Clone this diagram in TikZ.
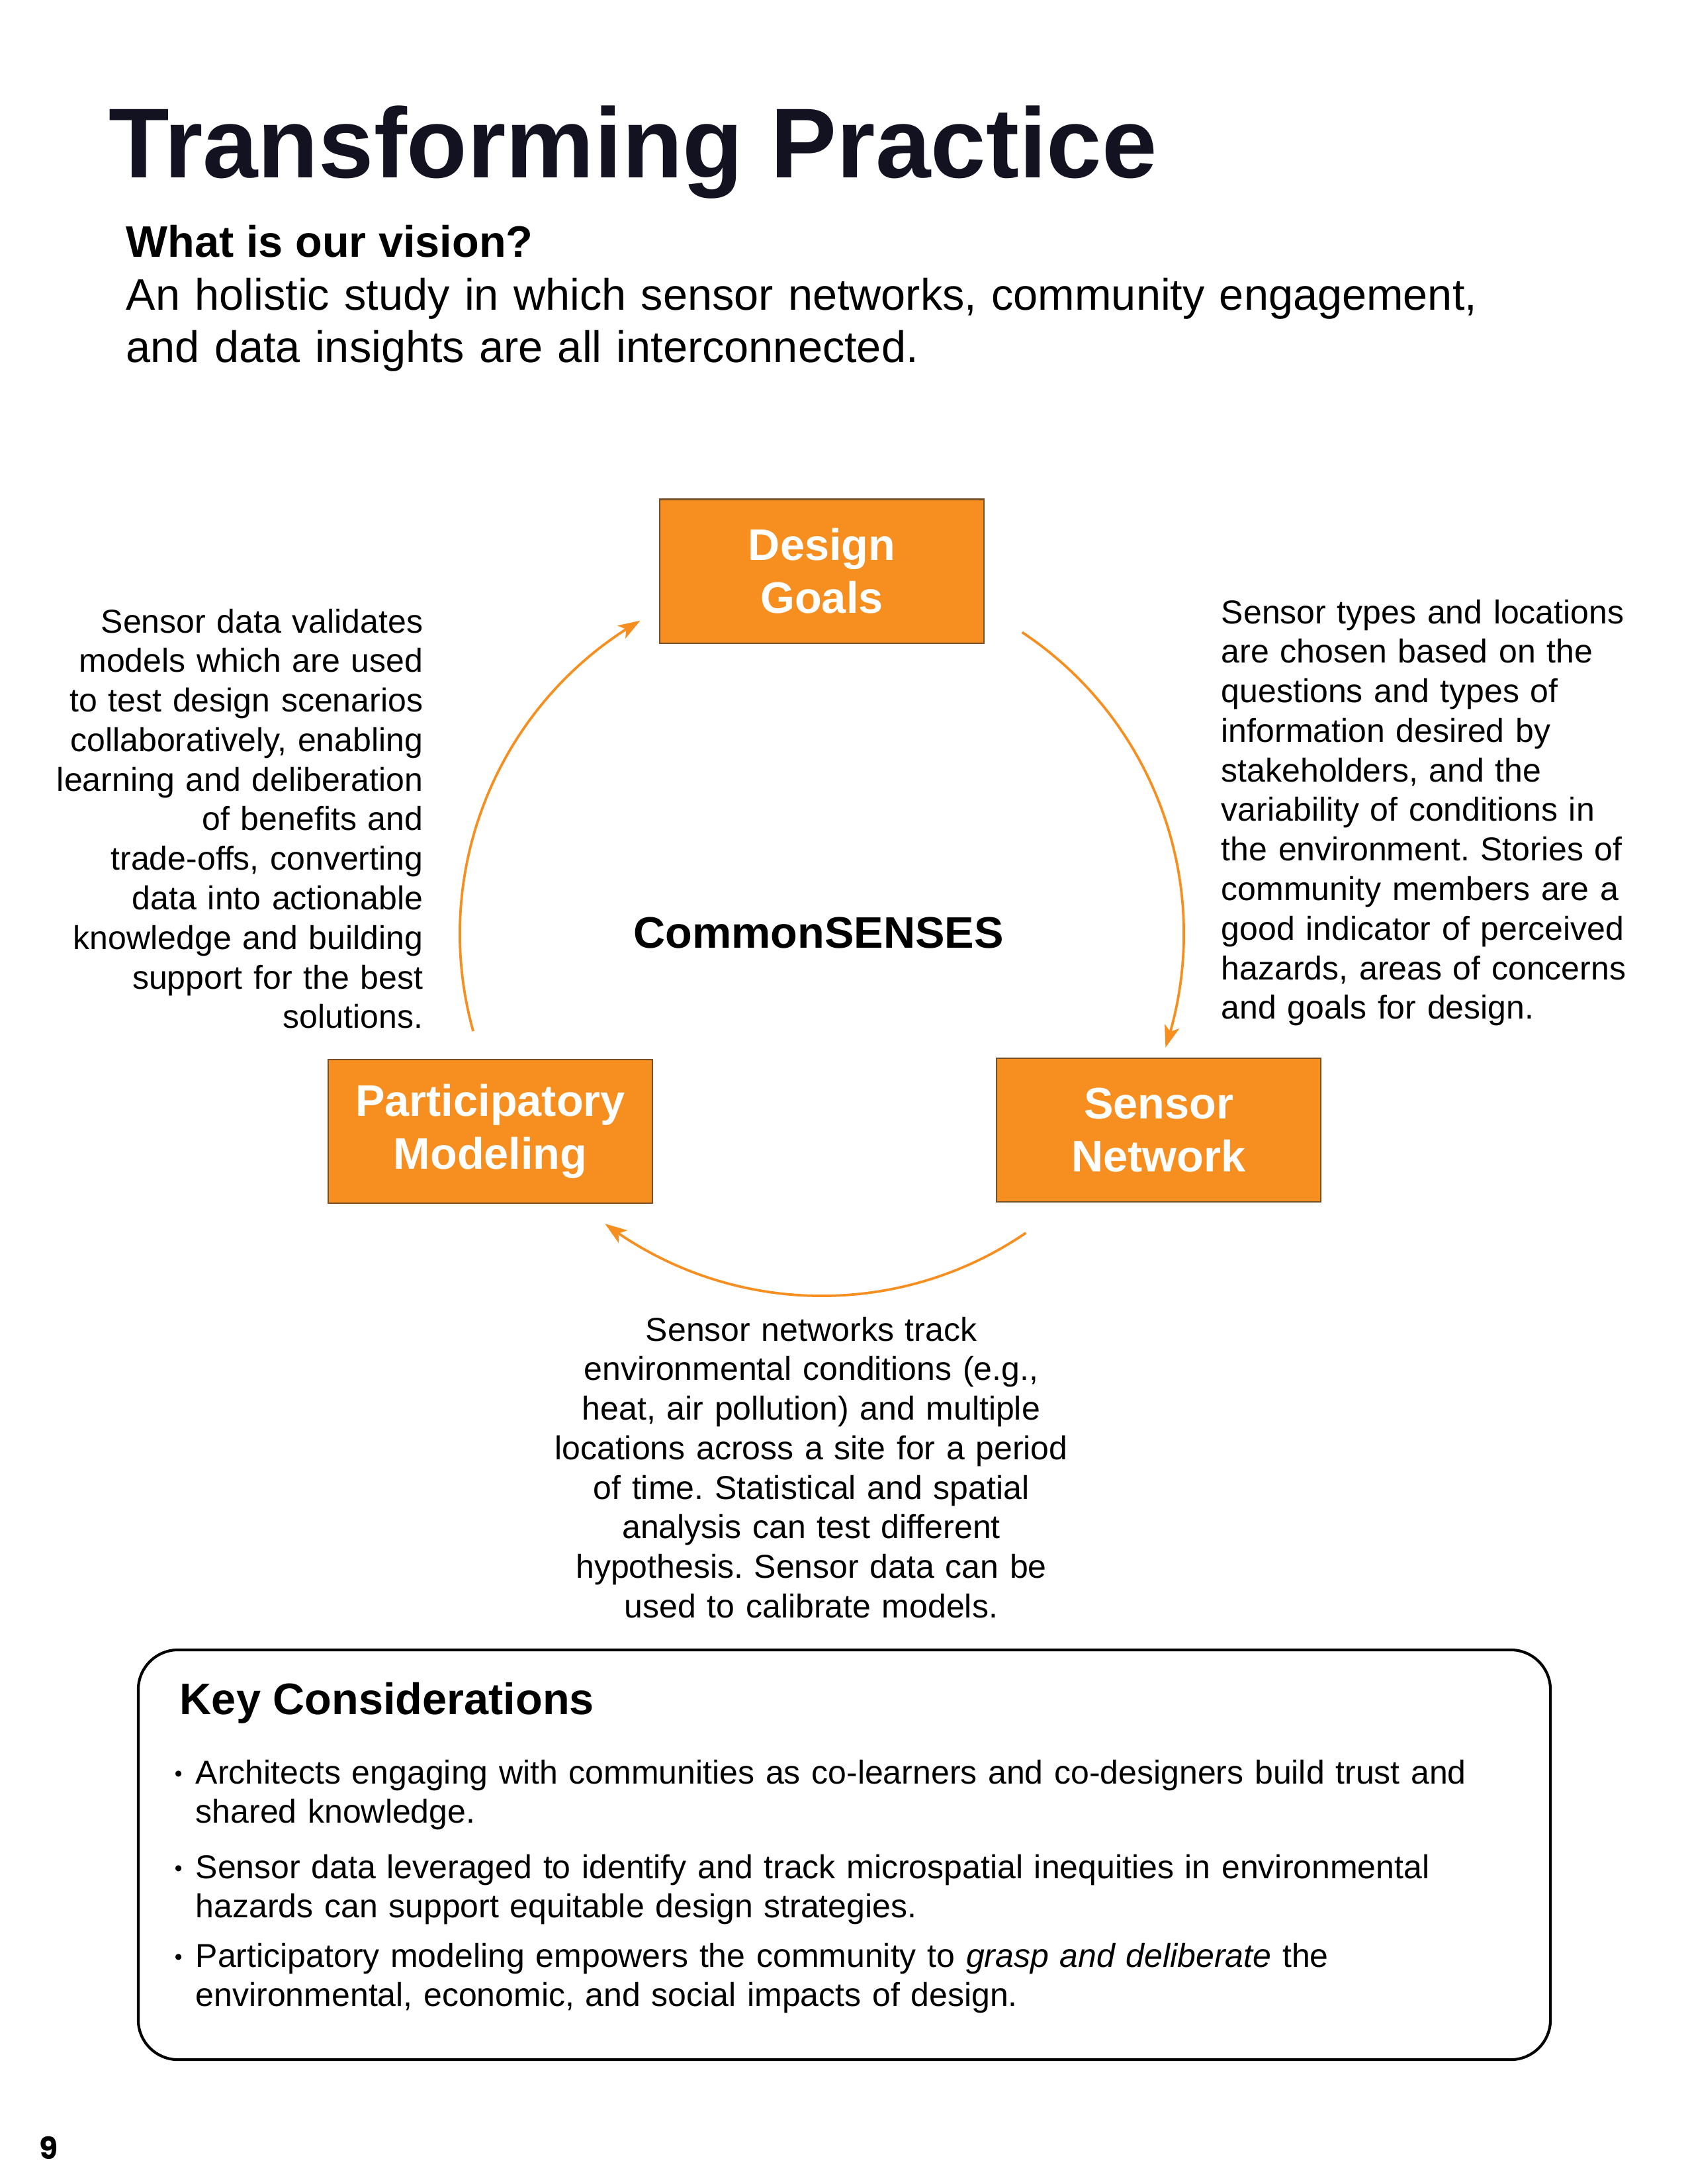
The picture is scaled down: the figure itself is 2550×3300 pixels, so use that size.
\documentclass[tikz,border=0pt]{standalone}
\usepackage{fontspec}
\setmainfont{Liberation Sans}
\newfontfamily\pagenumfont{Poppins}
\usetikzlibrary{arrows.meta,bending}
\definecolor{orangeA}{RGB}{246,142,32}
\definecolor{boxedge}{RGB}{120,80,40}
\definecolor{titlecol}{RGB}{18,18,32}
\frenchspacing
\begin{document}
\begin{tikzpicture}[x=0.24pt,y=-0.24pt,
  stage/.style={draw=boxedge, line width=0.5pt, fill=orangeA, text=white,
    font=\fontsize{16}{19.2}\selectfont\bfseries, align=center,
    minimum width=117.6pt, minimum height=52.1pt, inner sep=0pt},
  flow/.style={draw=orangeA, line width=0.9pt,
    -{Stealth[length=8pt,width=5.5pt,inset=2pt]}},
  note/.style={font=\fontsize{12}{14.35}\selectfont, inner sep=0pt, text width=300pt},
  keyitem/.style={font=\fontsize{12}{14.2}\selectfont, inner sep=0pt, text width=500pt,
    align=left, anchor=base west},
  bul/.style={font=\fontsize{8}{10}\selectfont, inner sep=0pt, anchor=base west},
  heading/.style={inner sep=0pt, anchor=base west}
]
\useasboundingbox (0,0) rectangle (2550,3300);

% header
\node[heading, font=\fontsize{36}{40}\selectfont\bfseries, text=titlecol] (title) at (164,268) {Transforming Practice};
\node[heading, font=\fontsize{16}{18}\selectfont\bfseries] (question) at (190,388) {What is our vision?};
\node[heading, font=\fontsize{16}{19}\selectfont, text width=560pt, align=left] (vision) at (190,468)
  {An holistic study in which sensor networks, community engagement,\\and data insights are all interconnected.};

% cycle boxes
\node[stage] (design) at (1242,863) {Design\\Goals};
\node[stage] (partic) at (741,1709.5) {Participatory\\Modeling};
\node[stage] (sensor) at (1751,1707.5) {Sensor\\Network};

\node[inner sep=0pt, anchor=base, font=\fontsize{16}{19}\selectfont\bfseries] (center) at (1237,1432) {CommonSENSES};

% arcs
\coordinate (O) at (1242,1411);
\draw[flow] (O) ++(195.6:131.3pt) coordinate (lstart)
  arc[start angle=195.6, end angle=120.1, radius=131.3pt] coordinate (lend);
\draw[flow] (O) ++(56.4:131.3pt) coordinate (rstart)
  arc[start angle=56.4, end angle=-18.3, radius=131.3pt] coordinate (rend);
\draw[flow] (O) ++(-55.7:131.3pt) coordinate (bstart)
  arc[start angle=-55.7, end angle=-126.8, radius=131.3pt] coordinate (bend);

% notes
\node[note, anchor=base east, align=right] (leftnote) at (640,956)
  {Sensor data validates\\models which are used\\to test design scenarios\\collaboratively, enabling\\learning and deliberation\\of benefits and\\trade-offs, converting\\data into actionable\\knowledge and building\\support for the best\\solutions.};
\node[note, anchor=base west, align=left] (rightnote) at (1845,942)
  {Sensor types and locations\\are chosen based on the\\questions and types of\\information desired by\\stakeholders, and the\\variability of conditions in\\the environment. Stories of\\community members are a\\good indicator of perceived\\hazards, areas of concerns\\and goals for design.};
\node[note, anchor=base, align=center, text width=320pt] (bottomnote) at (1226,2026)
  {Sensor networks track\\environmental conditions (e.g.,\\heat, air pollution) and multiple\\locations across a site for a period\\of time. Statistical and spatial\\analysis can test different\\hypothesis. Sensor data can be\\used to calibrate models.};

% key considerations
\node[draw, line width=1pt, rounded corners=14.4pt, minimum width=512.2pt, minimum height=148.6pt, inner sep=0pt] (keybox) at (1276,2802.5) {};
\node[heading, font=\fontsize{16}{19}\selectfont\bfseries] (keyhead) at (271,2590) {Key Considerations};

\node[bul] (b1) at (263,2691) {\textbullet};
\node[keyitem] (k1) at (295,2695) {Architects engaging with communities as co-learners and co-designers build trust and\\shared knowledge.};
\node[bul] (b2) at (263,2834) {\textbullet};
\node[keyitem] (k2) at (295,2838) {Sensor data leveraged to identify and track microspatial inequities in environmental\\hazards can support equitable design strategies.};
\node[bul] (b3) at (263,2968) {\textbullet};
\node[keyitem] (k3) at (295,2972) {Participatory modeling empowers the community to \textit{grasp and deliberate} the\\environmental, economic, and social impacts of design.};

% page number
\node[heading, font=\pagenumfont\bfseries\fontsize{11}{13}\selectfont] (pagenum) at (59,3262) {9};
\end{tikzpicture}
\end{document}
